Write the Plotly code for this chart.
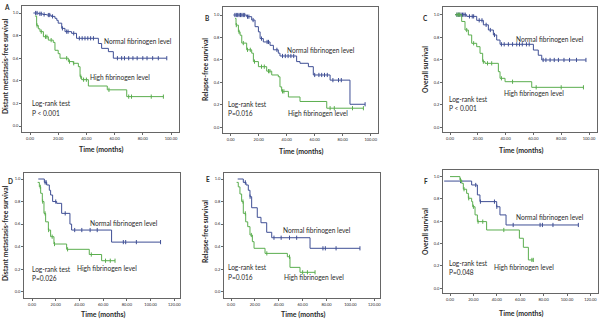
import plotly.graph_objects as go

# ---------------- data (times in months, survival proportions) ----------------
A_norm_t = [2.4, 6, 9, 11.8, 15, 17.7, 19, 20, 22.5, 24.8, 29.5, 33, 48.5, 50.8, 55.6, 59.1]
A_norm_s = [1.0, 0.993, 0.987, 0.982, 0.97, 0.953, 0.935, 0.91, 0.864, 0.835, 0.82, 0.776, 0.73, 0.687, 0.658, 0.6]
A_norm_end = 97
A_norm_c = [4, 5, 7, 8, 10, 13, 14, 16, 23, 26, 27, 31, 35, 37, 39, 41, 43, 45, 62, 65, 67, 70, 73, 76, 80, 83, 87, 91, 97]
A_high_t = [3.5, 4.7, 5.9, 7.1, 9.5, 13, 16.5, 17.7, 20, 21.3, 27.2, 30.7, 34.3, 35.5, 36.6, 41.4, 54.8, 68.6]
A_high_s = [0.973, 0.89, 0.86, 0.835, 0.79, 0.76, 0.74, 0.67, 0.64, 0.6, 0.57, 0.555, 0.525, 0.437, 0.41, 0.354, 0.32, 0.26]
A_high_end = 94.6
A_high_c = [5, 8, 11, 12, 15, 26, 28, 31, 36, 38, 40, 56, 70, 72, 86, 94.6]

B_norm_t = [1.9, 11.4, 15, 17.4, 19.8, 21, 23.3, 28.1, 30.5, 34, 35.2, 47.1, 49.5, 55.5, 59, 71, 85.2]
B_norm_s = [1.0, 0.985, 0.955, 0.896, 0.85, 0.79, 0.76, 0.73, 0.69, 0.66, 0.635, 0.585, 0.57, 0.54, 0.466, 0.42, 0.205]
B_norm_end = 96
B_norm_c = [3, 4, 5, 6, 7, 8, 9, 10, 12, 13, 16, 22, 26, 27, 33, 37, 39, 41, 43, 45, 60, 63, 65, 67, 69, 73, 77, 79, 96]
B_high_t = [3.1, 3.8, 5.5, 6.7, 7.9, 11.4, 15, 16.2, 19.8, 25.7, 29.3, 34, 35.2, 36.4, 41.2, 49.5, 68.6]
B_high_s = [0.97, 0.91, 0.85, 0.82, 0.75, 0.69, 0.66, 0.585, 0.54, 0.5, 0.466, 0.45, 0.36, 0.32, 0.27, 0.23, 0.17]
B_high_end = 94.8
B_high_c = [4, 6, 9, 12, 14, 17, 22, 24, 27, 28, 37, 38, 71, 74, 87, 94.8]

C_norm_t = [3.6, 12, 19.2, 24, 27.6, 31.2, 33.6, 36, 60, 63.5, 66]
C_norm_s = [1.0, 0.985, 0.95, 0.91, 0.864, 0.82, 0.775, 0.737, 0.686, 0.64, 0.598]
C_norm_end = 97.8
C_norm_c = [5, 6, 7, 8, 9, 10, 11, 14, 16, 17, 21, 23, 26, 29, 32, 37, 39, 42, 45, 48, 50, 52, 55, 57, 67, 69, 72, 75, 78, 82, 86, 91, 97.8]
C_high_t = [3.6, 8.4, 10.8, 13.2, 15.6, 19.2, 21.6, 23.5, 25.2, 34.8, 36, 39.6, 58.8]
C_high_s = [1.0, 0.94, 0.864, 0.82, 0.746, 0.716, 0.657, 0.583, 0.568, 0.494, 0.435, 0.405, 0.355]
C_high_end = 96
C_high_c = [5, 6, 7, 12, 17, 24, 27, 30, 37, 45, 62, 80, 96]

D_norm_t = [5.3, 10.4, 12.4, 14.6, 15.7, 17.4, 20.8, 25, 32, 33.4, 67.1]
D_norm_s = [1.0, 0.97, 0.947, 0.9, 0.858, 0.8, 0.784, 0.695, 0.6, 0.547, 0.44]
D_norm_end = 108.4
D_norm_c = [11, 12, 20, 28, 36, 42, 49, 55, 77, 79, 88, 108.4]
D_high_t = [4.8, 6.2, 7.3, 8.7, 10.1, 11.5, 13.8, 15.7, 18.5, 29.2, 48.3, 58.7]
D_high_s = [0.97, 0.93, 0.873, 0.8, 0.695, 0.62, 0.547, 0.488, 0.423, 0.376, 0.33, 0.275]
D_high_end = 70
D_high_c = [7, 9, 11, 14, 17, 19, 30, 50, 62, 66, 70]

E_norm_t = [5.6, 10.3, 12.6, 14.5, 15.9, 17.3, 22, 25.1, 29.9, 34.1, 66.2]
E_norm_s = [1.0, 0.97, 0.947, 0.9, 0.843, 0.745, 0.66, 0.612, 0.527, 0.479, 0.385]
E_norm_end = 108
E_norm_c = [12, 16, 36, 42, 49, 55, 77, 79, 88, 108]
E_high_t = [4.7, 6.1, 7.5, 8.9, 10.3, 12.3, 14, 15.9, 17.9, 19.3, 28.5, 47.2, 49.4, 57.8]
E_high_s = [0.97, 0.93, 0.867, 0.8, 0.695, 0.62, 0.577, 0.503, 0.444, 0.385, 0.34, 0.31, 0.216, 0.172]
E_high_end = 70.4
E_high_c = [10, 12, 17, 30, 49, 60, 64, 70.4]

F_norm_t = [-5, 18.5, 23.4, 25.6, 39.9, 42.7, 47.9]
F_norm_s = [0.96, 0.925, 0.836, 0.776, 0.73, 0.657, 0.567]
F_norm_end = 109.7
F_norm_c = [9, 22, 26, 38, 40, 54, 77, 79, 88, 109.7]
F_high_t = [0, 8.5, 10, 11.4, 14.2, 15.7, 18.5, 19.4, 21.4, 23.4, 31.3, 59.3, 62.7, 67]
F_high_s = [1.0, 0.97, 0.94, 0.887, 0.85, 0.806, 0.776, 0.73, 0.657, 0.597, 0.522, 0.448, 0.367, 0.254]
F_high_end = 71.2
F_high_c = [9, 12, 16, 20, 24, 28, 46, 70, 71.2]

y_titles = ["Distant metastasis-free survival", "Relapse-free survival", "Overall survival",
            "Distant metastasis-free survival", "Relapse-free survival", "Overall survival"]
p_texts = ["P < 0.001", "P=0.016", "P < 0.001", "P=0.026", "P=0.016", "P=0.048"]
panel_letters = ["A", "B", "C", "D", "E", "F"]
x_ticks_top = [0, 20, 40, 60, 80, 100]
x_ticks_bottom = [0, 20, 40, 60, 80, 100, 120]
y_ticks = [0.0, 0.2, 0.4, 0.6, 0.8, 1.0]

series = [
    (A_norm_t, A_norm_s, A_norm_end, A_norm_c, A_high_t, A_high_s, A_high_end, A_high_c),
    (B_norm_t, B_norm_s, B_norm_end, B_norm_c, B_high_t, B_high_s, B_high_end, B_high_c),
    (C_norm_t, C_norm_s, C_norm_end, C_norm_c, C_high_t, C_high_s, C_high_end, C_high_c),
    (D_norm_t, D_norm_s, D_norm_end, D_norm_c, D_high_t, D_high_s, D_high_end, D_high_c),
    (E_norm_t, E_norm_s, E_norm_end, E_norm_c, E_high_t, E_high_s, E_high_end, E_high_c),
    (F_norm_t, F_norm_s, F_norm_end, F_norm_c, F_high_t, F_high_s, F_high_end, F_high_c),
]

# ---------------- layout geometry (pixels) ----------------
W, H = 600, 319
geom = [
    dict(L=22, R=179, T=6, B=132, x0=30, sx=1.41, y0=126, sy=113),
    dict(L=223, R=378, T=7, B=133, x0=230.7, sx=1.40, y0=127.3, sy=112.3),
    dict(L=443, R=597, T=7, B=132, x0=450, sx=1.39, y0=127.3, sy=112.6),
    dict(L=24, R=180, T=173, B=298, x0=32, sx=1.186, y0=291.7, sy=112.7),
    dict(L=224, R=380, T=173, B=298, x0=231, sx=1.194, y0=291.7, sy=112.7),
    dict(L=443, R=598, T=170, B=293, x0=450, sx=1.17, y0=288.3, sy=111.7),
]
text_pos = [
    dict(norm=(103, 41), high=(89, 77), lr=(31, 103), p=(31, 113), yt=(5, 66), xt=(101, 149), let=(3, 3)),
    dict(norm=(286, 50), high=(287, 113), lr=(227, 104), p=(227, 113), yt=(205, 70), xt=(301, 151), let=(204, 14)),
    dict(norm=(515, 39), high=(503, 93), lr=(448, 99), p=(448, 108), yt=(425, 70), xt=(521, 150), let=(422, 14)),
    dict(norm=(89, 223), high=(76, 268), lr=(31, 269), p=(31, 278), yt=(5, 233), xt=(103, 314), let=(7, 177)),
    dict(norm=(282, 230), high=(283, 277), lr=(227, 267), p=(227, 277), yt=(205, 232), xt=(303, 314), let=(205, 175)),
    dict(norm=(515, 217), high=(493, 267), lr=(448, 263), p=(448, 272), yt=(425, 232), xt=(521, 313), let=(423, 177)),
]

BLUE = "#3f4f95"
GREEN = "#5bae4f"
FONT = "Lato"
TXT = "#2a2a2a"
AX = "#666666"


def surv_at(ts, ss, t):
    v = ss[0]
    for ti, si in zip(ts, ss):
        if t >= ti:
            v = si
    return v


fig = go.Figure()
annotations = []
layout_axes = {}

for i, (g, tp, ser) in enumerate(zip(geom, text_pos, series)):
    n = "" if i == 0 else str(i + 1)
    xa, ya = "x" + n, "y" + n
    xr = [(g["L"] - g["x0"]) / g["sx"], (g["R"] - g["x0"]) / g["sx"]]
    yr = [(g["y0"] - g["B"]) / g["sy"], (g["y0"] - g["T"]) / g["sy"]]
    xt = x_ticks_top if i < 3 else x_ticks_bottom
    layout_axes["xaxis" + n] = dict(
        domain=[g["L"] / W, g["R"] / W], range=xr, anchor=ya,
        tickvals=xt, ticktext=[f"{v:.2f}" for v in xt],
        ticks="outside", ticklen=2, tickwidth=0.8, tickcolor=AX,
        showline=True, linecolor=AX, linewidth=0.8, mirror=True,
        showgrid=False, zeroline=False,
        tickfont=dict(family=FONT, size=4, color=TXT),
    )
    layout_axes["yaxis" + n] = dict(
        domain=[1 - g["B"] / H, 1 - g["T"] / H], range=yr, anchor=xa,
        tickvals=y_ticks, ticktext=[f"{v:.1f}" for v in y_ticks],
        ticks="outside", ticklen=2, tickwidth=0.8, tickcolor=AX,
        showline=True, linecolor=AX, linewidth=0.8, mirror=True,
        showgrid=False, zeroline=False,
        tickfont=dict(family=FONT, size=4, color=TXT),
    )
    nt, ns, ne, nc, ht, hs, he, hc = ser
    for ts, ss, te, cs, col in [(nt, ns, ne, nc, BLUE), (ht, hs, he, hc, GREEN)]:
        fig.add_trace(go.Scatter(
            x=list(ts) + [te], y=list(ss) + [ss[-1]], mode="lines",
            line=dict(color=col, width=1, shape="hv"), xaxis=xa, yaxis=ya,
            showlegend=False, hoverinfo="skip"))
        fig.add_trace(go.Scatter(
            x=cs, y=[surv_at(ts, ss, c) for c in cs], mode="markers",
            marker=dict(symbol="line-ns-open", size=3, color=col, line=dict(color=col, width=1)),
            xaxis=xa, yaxis=ya, showlegend=False, hoverinfo="skip"))

    def ann(pos, text, size=7, bold=False, angle=0, xanchor="left", yanchor="middle"):
        annotations.append(dict(
            x=pos[0] / W, y=1 - pos[1] / H, xref="paper", yref="paper",
            text=f"<b>{text}</b>" if bold else text, showarrow=False,
            xanchor=xanchor, yanchor=yanchor, textangle=angle, borderpad=0,
            font=dict(family=FONT, size=size, color=TXT)))

    ann(tp["norm"], "Normal fibrinogen level", size=6.6)
    ann(tp["high"], "High fibrinogen level", size=6.6)
    ann(tp["lr"], "Log-rank test", size=6.6)
    ann(tp["p"], p_texts[i], size=6.6)
    ann(tp["yt"], y_titles[i], size=6.8, bold=True, angle=-90, xanchor="center")
    ann(tp["xt"], "Time (months)", size=7, bold=True, xanchor="center")
    ann(tp["let"], panel_letters[i], size=6.5, bold=True, yanchor="top")

fig.update_layout(
    width=W, height=H, margin=dict(l=0, r=0, t=0, b=0),
    paper_bgcolor="white", plot_bgcolor="white",
    annotations=annotations, **layout_axes)

fig.write_html("out.html", config={"displayModeBar": False},
               post_script="document.body.style.margin='0px';document.body.style.padding='0px';")
